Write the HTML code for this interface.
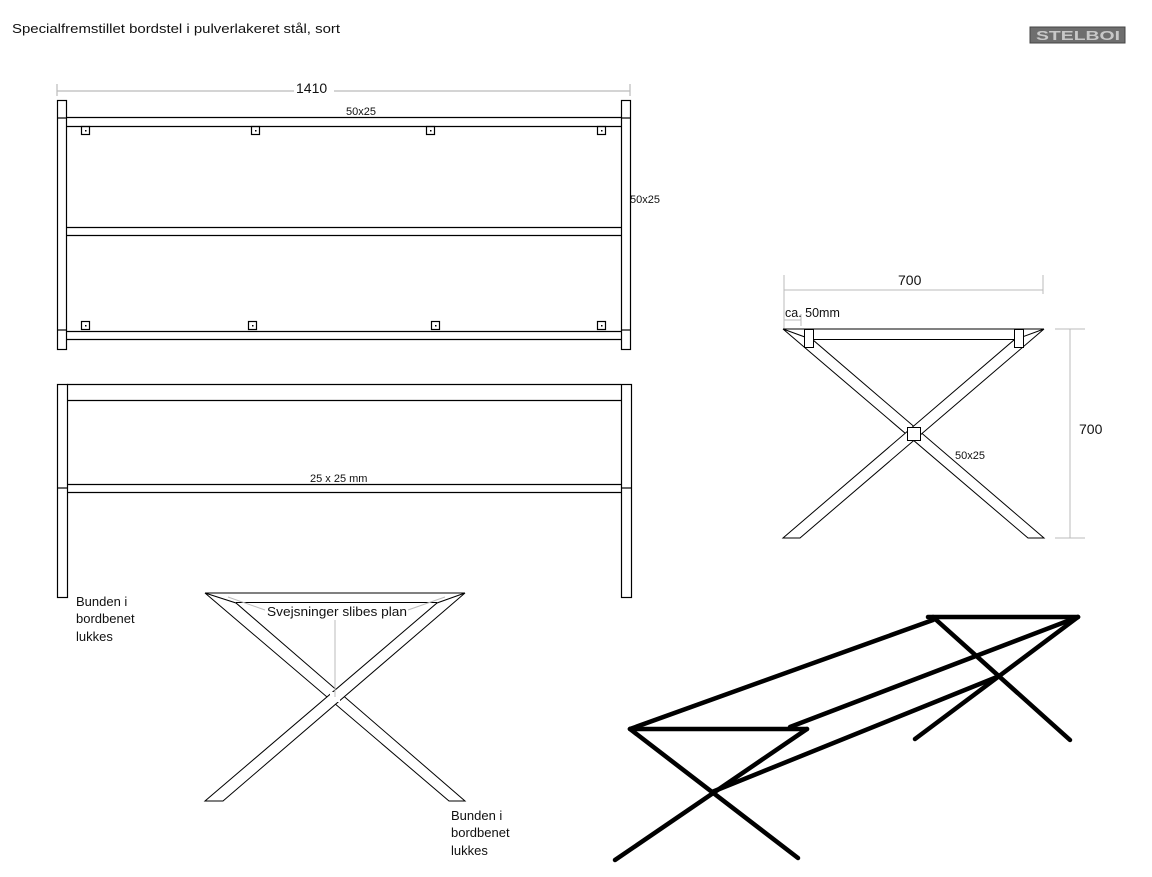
<!DOCTYPE html>
<html><head><meta charset="utf-8"><style>
html,body{margin:0;padding:0;background:#fff;}
svg{display:block;}
text{font-family:"Liberation Sans",sans-serif;fill:#111;}
</style></head><body>
<svg width="1152" height="877" viewBox="0 0 1152 877" xmlns="http://www.w3.org/2000/svg">
<rect width="1152" height="877" fill="#fff"/>
<text x="12" y="33" font-size="13" textLength="328" lengthAdjust="spacingAndGlyphs">Specialfremstillet bordstel i pulverlakeret stål, sort</text>
<rect x="1030" y="27" width="95" height="16" fill="#6e6e6e" stroke="#444"/>
<text x="1036" y="40" font-size="13" font-weight="bold" style="fill:#c8c8c8" textLength="84" lengthAdjust="spacingAndGlyphs">STELBOI</text>

<!-- top view -->
<g stroke="#000" stroke-width="1.2" fill="none">
<line x1="57" y1="91" x2="630" y2="91" stroke="#bbb"/>
<line x1="57" y1="84" x2="57" y2="96" stroke="#bbb"/>
<line x1="630" y1="84" x2="630" y2="96" stroke="#bbb"/>
<rect x="57.5" y="100.5" width="9" height="249"/>
<rect x="621.5" y="100.5" width="9" height="249"/>
<line x1="57" y1="118" x2="66" y2="118"/><line x1="621" y1="118" x2="630" y2="118"/>
<line x1="57" y1="330" x2="66" y2="330"/><line x1="621" y1="330" x2="630" y2="330"/>
<line x1="66" y1="117.5" x2="621" y2="117.5"/><line x1="66" y1="126.5" x2="621" y2="126.5"/>
<line x1="66" y1="227.5" x2="621" y2="227.5"/><line x1="66" y1="235.5" x2="621" y2="235.5"/>
<line x1="66" y1="331.5" x2="621" y2="331.5"/><line x1="66" y1="339.5" x2="621" y2="339.5"/>
<rect x="81.5" y="126.5" width="8" height="8"/><rect x="251.5" y="126.5" width="8" height="8"/>
<rect x="426.5" y="126.5" width="8" height="8"/><rect x="597.5" y="126.5" width="8" height="8"/>
<rect x="81.5" y="321.5" width="8" height="8"/><rect x="248.5" y="321.5" width="8" height="8"/>
<rect x="431.5" y="321.5" width="8" height="8"/><rect x="597.5" y="321.5" width="8" height="8"/>
</g>
<g fill="#000">
<rect x="85" y="130" width="1.5" height="1.5"/><rect x="255" y="130" width="1.5" height="1.5"/>
<rect x="430" y="130" width="1.5" height="1.5"/><rect x="601" y="130" width="1.5" height="1.5"/>
<rect x="85" y="325" width="1.5" height="1.5"/><rect x="252" y="325" width="1.5" height="1.5"/>
<rect x="435" y="325" width="1.5" height="1.5"/><rect x="601" y="325" width="1.5" height="1.5"/>
</g>
<rect x="294" y="80" width="40" height="14" fill="#fff"/>
<text x="296" y="93" font-size="14">1410</text>
<text x="346" y="115" font-size="11">50x25</text>
<text x="630" y="203" font-size="11">50x25</text>

<!-- front view -->
<g stroke="#000" stroke-width="1.2" fill="none">
<rect x="57.5" y="384.5" width="10" height="213"/>
<rect x="621.5" y="384.5" width="10" height="213"/>
<line x1="57" y1="488" x2="67" y2="488"/><line x1="621" y1="488" x2="631" y2="488"/>
<line x1="67" y1="384.5" x2="621" y2="384.5"/><line x1="67" y1="400.5" x2="621" y2="400.5"/>
<line x1="67" y1="484.5" x2="621" y2="484.5"/><line x1="67" y1="492.5" x2="621" y2="492.5"/>
</g>
<text x="310" y="482" font-size="11">25 x 25 mm</text>
<text x="76" y="606" font-size="13">Bunden i</text>
<text x="76" y="623" font-size="13">bordbenet</text>
<text x="76" y="641" font-size="13">lukkes</text>

<!-- side X -->
<g stroke="#bbb" stroke-width="1" fill="none">
<line x1="784" y1="290" x2="1043" y2="290"/>
<line x1="784" y1="275" x2="784" y2="330"/><line x1="1043" y1="275" x2="1043" y2="294"/>
<line x1="784" y1="320" x2="801" y2="320"/><line x1="801" y1="314" x2="801" y2="326"/>
<line x1="1055" y1="329" x2="1085" y2="329"/><line x1="1055" y1="538" x2="1085" y2="538"/>
<line x1="1070" y1="329" x2="1070" y2="538"/>
</g>
<g stroke="#000" stroke-width="1" fill="#fff">
<polygon points="783,329 813,340 1044,538 1028,538"/>
<polygon points="1044,329 1014,340 783,538 800,538"/>
<line x1="783" y1="329" x2="1044" y2="329"/>
<line x1="813" y1="339.5" x2="1014" y2="339.5"/>
<rect x="804.5" y="329.5" width="9" height="18"/>
<rect x="1014.5" y="329.5" width="9" height="18"/>
<rect x="907.5" y="427.5" width="13" height="13"/>
</g>
<text x="898" y="285" font-size="14">700</text>
<text x="785" y="317" font-size="12.5">ca. 50mm</text>
<text x="1079" y="434" font-size="14">700</text>
<text x="955" y="459" font-size="11">50x25</text>

<!-- bottom X -->
<g stroke="#000" stroke-width="1" fill="#fff">
<polygon points="205,593 236,603 465,801 449,801"/>
<polygon points="465,593 437,603 205,801 223,801"/>
<line x1="205" y1="593" x2="465" y2="593"/>
<line x1="236" y1="602.5" x2="437" y2="602.5"/>
</g>
<rect x="330" y="692" width="10" height="10" fill="#fff"/>
<g stroke="#bbb" stroke-width="1">
<line x1="228" y1="597" x2="265" y2="610"/>
<line x1="445" y1="597" x2="408" y2="610"/>
<line x1="335" y1="620" x2="335" y2="697"/>
</g>
<text x="267" y="616" font-size="12.5" textLength="140" lengthAdjust="spacingAndGlyphs">Svejsninger slibes plan</text>
<text x="451" y="820" font-size="13">Bunden i</text>
<text x="451" y="837" font-size="13">bordbenet</text>
<text x="451" y="855" font-size="13">lukkes</text>

<!-- 3D sketch -->
<g stroke="#000" stroke-width="4.5" fill="none" stroke-linecap="round">
<line x1="928" y1="617" x2="1078" y2="617"/>
<line x1="630" y1="729" x2="807" y2="729"/>
<line x1="630" y1="729" x2="933" y2="620"/>
<line x1="790" y1="727" x2="1078" y2="617"/>
<line x1="712" y1="792" x2="997" y2="677"/>
<line x1="630" y1="729" x2="798" y2="858"/>
<line x1="807" y1="729" x2="615" y2="860"/>
<line x1="933" y1="617" x2="1070" y2="740"/>
<line x1="1078" y1="617" x2="915" y2="739"/>
</g>
</svg>
</body></html>
